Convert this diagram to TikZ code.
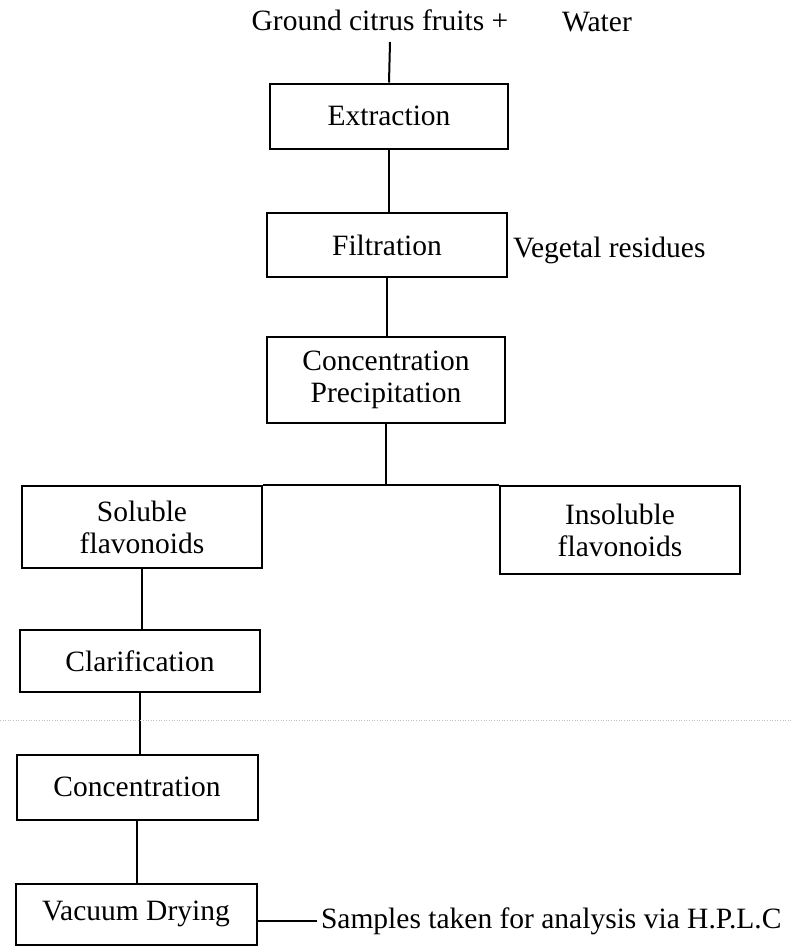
\documentclass[tikz,border=0pt]{standalone}
\usepackage{fontspec}
\setmainfont{Liberation Serif}
\begin{document}
\begin{tikzpicture}[x=1pt,y=-1pt,line width=2pt,
  box/.style={draw,minimum width=240pt,inner sep=0pt,align=center,font=\fontsize{29.5}{32}\selectfont},
  lbl/.style={inner sep=0pt,font=\fontsize{29.5}{32}\selectfont}]
\useasboundingbox (0,0) rectangle (791,948);
\node[lbl] (ground) at (380,20) {Ground citrus fruits +};
\node[lbl] (water) at (597,22) {Water};
\coordinate (feed) at (390,42);
\node[box,minimum width=238pt,minimum height=65pt] (ext) at (389,116) {Extraction};
\node[box,minimum height=64pt] (filt) at (387,245) {Filtration};
\node[lbl,anchor=west] (veg) at (512,250) {Vegetal residues};
\node[box,minimum width=238pt,minimum height=86pt] (conc) at (386,380) {Concentration\\Precipitation};
\node[box,minimum height=82pt] (sol) at (142,527) {Soluble\\flavonoids};
\node[box,minimum height=88pt] (insol) at (620,530) {Insoluble\\flavonoids};
\node[box,minimum height=62pt] (clar) at (140,661) {Clarification};
\node[box,minimum width=241pt,minimum height=65pt] (conc2) at (137,787) {Concentration};
\node[box,minimum width=241pt,minimum height=61pt] (vac) at (136,914) {Vacuum Drying};
\node[lbl,anchor=west] (samp) at (320,921) {Samples taken for analysis via H.P.L.C};
\draw (feed) -- (ext.north);
\draw (ext.south) -- (ext.south |- filt.north);
\draw (filt.south) -- (filt.south |- conc.north);
\draw (conc.south) -- (conc.south |- sol.north);
\draw (sol.north east) -- (insol.north west);
\draw (sol.south) -- (sol.south |- clar.north);
\draw (clar.south) -- (clar.south |- conc2.north);
\draw (conc2.south) -- (conc2.south |- vac.north);
\draw (vac.east |- samp.west) -- ([xshift=-3pt]samp.west);
\draw[gray!50,dotted,line width=0.6pt] (0,720) -- (791,720);
\end{tikzpicture}
\end{document}
